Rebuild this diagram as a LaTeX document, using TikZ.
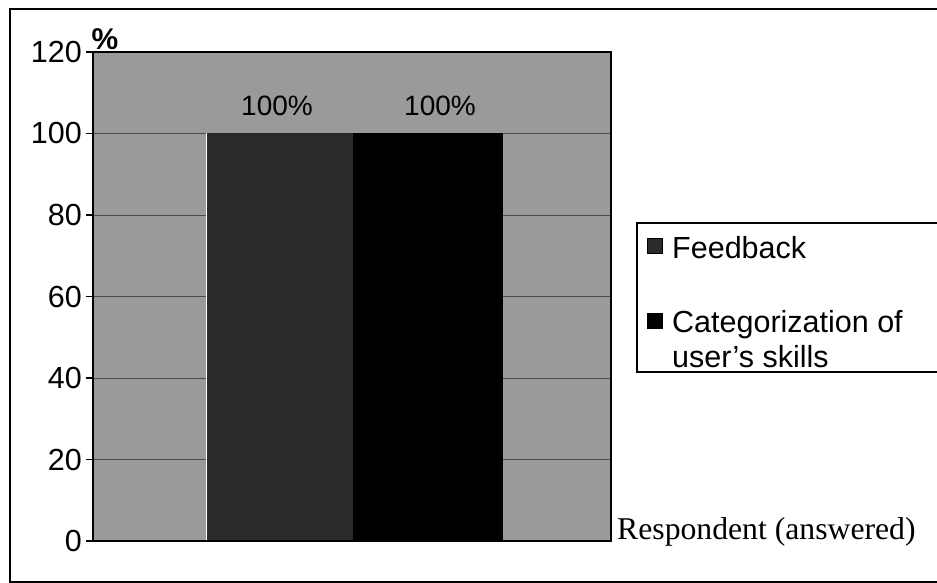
\documentclass[tikz,border=0pt]{standalone}
\usepackage{fontspec}
\setmainfont{Liberation Serif}
\setsansfont{Liberation Sans}
\definecolor{plotbg}{HTML}{9A9A9A}
\definecolor{bardark}{HTML}{2A2A2A}
\definecolor{gridc}{HTML}{4A4A4A}
\begin{document}
\begin{tikzpicture}[x=1pt,y=-1pt,
  frameline/.style={line width=2pt, black},
  axisline/.style={line width=1.2pt, black},
  gridline/.style={line width=0.8pt, gridc},
  ticklabel/.style={font=\sffamily\fontsize{30.5}{34}\selectfont, anchor=east, inner sep=0pt},
  barlabel/.style={font=\sffamily\fontsize{28}{30}\selectfont, anchor=base, inner sep=0pt},
  legendtext/.style={font=\sffamily\fontsize{30.5}{35}\selectfont, anchor=base west, inner sep=0pt},
  markbox/.style={draw=black, line width=0.8pt},
]
\useasboundingbox (0,0) rectangle (937,583);
\fill[white] (0,0) rectangle (937,583);

% outer frame
\draw[frameline] (937,9) -- (10,9) -- (10,582) -- (937,582);

% plot area
\fill[plotbg] (93,52) rectangle (611,541);
\foreach \v in {20,40,60,80,100}
  \draw[gridline] (93,{541-\v*4.075}) -- (611,{541-\v*4.075});

% bars
\fill[bardark] (206,{541-100*4.075}) rectangle (353,541);
\fill[black] (353,{541-100*4.075}) rectangle (503,541);
\draw[white, line width=0.8pt] (206,{541-100*4.075}) -- (206,541);

% axes and border
\draw[axisline] (93,52) rectangle (611,541);
\foreach \v in {0,20,40,60,80,100,120}
  \draw[axisline] (86,{541-\v*4.075}) -- (93,{541-\v*4.075});

% tick labels
\foreach \v in {0,20,40,60,80,100,120}
  \node[ticklabel] (t\v) at (82,{541-\v*4.075}) {\v};

\node[font=\sffamily\bfseries\fontsize{30}{34}\selectfont, inner sep=0pt] (pct) at (105,39) {\%};

% bar labels
\node[barlabel] (lab1) at (277,116) {100\%};
\node[barlabel] (lab2) at (440,116) {100\%};

% legend
\draw[axisline] (937,223) -- (637,223) -- (637,372) -- (937,372);
\node[markbox, fill=bardark, minimum size=15pt, inner sep=0pt] (m1) at (654.5,246) {};
\node[markbox, fill=black, minimum size=15pt, inner sep=0pt] (m2) at (654.5,320.5) {};
\node[legendtext] (l1) at (672,258) {Feedback};
\node[legendtext] (l2) at (672,332) {Categorization of};
\node[legendtext] (l3) at (672,367) {user's skills};

% axis title
\node[font=\fontsize{31.7}{34}\selectfont, anchor=base west, inner sep=0pt] (resp) at (617,539) {Respondent (answered)};
\end{tikzpicture}
\end{document}
